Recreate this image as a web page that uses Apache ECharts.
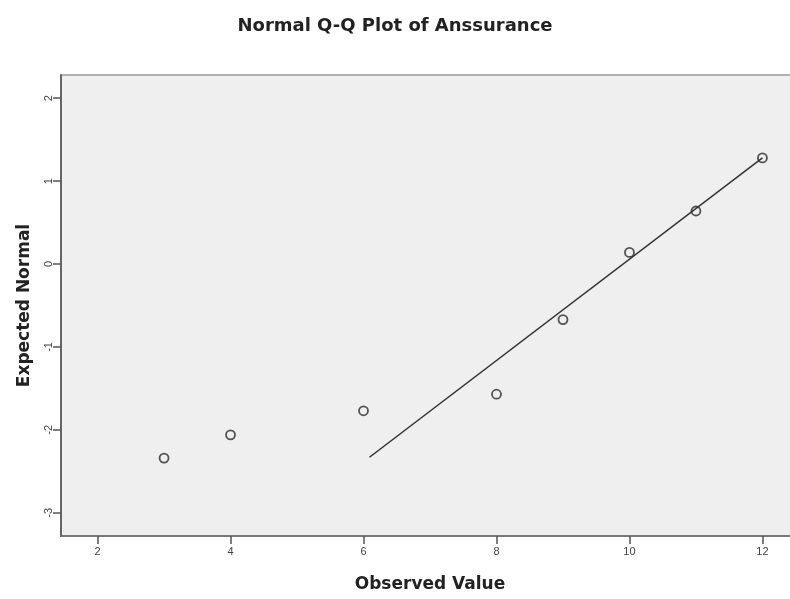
<!DOCTYPE html>
<html>
<head>
<meta charset="utf-8">
<script src="https://cdn.jsdelivr.net/npm/echarts@6/dist/echarts.min.js"></script>
<style>
  html, body { margin: 0; padding: 0; background: #fff; }
  #chart { width: 790px; height: 599px; }
</style>
</head>
<body>
<div id="chart"></div>
<script>
// Observed scores and their expected normal quantiles
const observed = [3, 4, 6, 8, 9, 10, 11, 12];
const expectedNormal = [-2.34, -2.06, -1.77, -1.57, -0.67, 0.14, 0.64, 1.28];
// Reference line end points (observed value, expected normal)
const refLineX = [6.09, 12];
const refLineY = [-2.33, 1.28];
// Axis tick values
const xTicks = [2, 4, 6, 8, 10, 12];
const yTicks = [-3, -2, -1, 0, 1, 2];

const points = observed.map((v, i) => [v, expectedNormal[i]]);
const refLine = refLineX.map((v, i) => [v, refLineY[i]]);

const chart = echarts.init(document.getElementById('chart'), null, { renderer: 'canvas' });
const nameFont = 'DejaVu Sans, Verdana, sans-serif';
const tickFont = 'Liberation Sans, Arial, sans-serif';

chart.setOption({
  animation: false,
  backgroundColor: '#ffffff',
  title: {
    text: 'Normal Q-Q Plot of Anssurance',
    left: 390,
    top: 12,
    textAlign: 'center',
    textStyle: { fontFamily: nameFont, fontSize: 18, fontWeight: 'bold', color: '#222' }
  },
  grid: {
    left: 61, top: 75, width: 738, height: 461,
    outerBoundsMode: 'none',
    containLabel: false,
    show: true,
    backgroundColor: '#efefef',
    borderColor: '#9a9a9a',
    borderWidth: 1.5
  },
  xAxis: {
    type: 'value',
    min: 1.45, max: 12.55,
    name: 'Observed Value',
    nameLocation: 'middle',
    nameGap: 40,
    nameTextStyle: { fontFamily: nameFont, fontSize: 17, fontWeight: 'bold', color: '#222' },
    axisLine: { show: true, onZero: false, lineStyle: { color: '#666', width: 1.5 } },
    axisTick: { show: true, inside: false, length: 8, customValues: xTicks, lineStyle: { color: '#555', width: 1.5 } },
    axisLabel: { customValues: xTicks, margin: 10, fontFamily: tickFont, fontSize: 11, color: '#444' },
    splitLine: { show: false }
  },
  yAxis: {
    type: 'value',
    min: -3.28, max: 2.28,
    name: 'Expected Normal',
    nameLocation: 'middle',
    nameGap: 28,
    nameRotate: 90,
    nameTextStyle: { fontFamily: nameFont, fontSize: 17, fontWeight: 'bold', color: '#222' },
    axisLine: { show: true, onZero: false, lineStyle: { color: '#666', width: 2 } },
    axisTick: { show: true, inside: false, length: 8, customValues: yTicks, lineStyle: { color: '#555', width: 1.5 } },
    axisLabel: { customValues: yTicks, rotate: 90, margin: 7, fontFamily: tickFont, fontSize: 11, color: '#444' },
    splitLine: { show: false }
  },
  series: [
    {
      type: 'line',
      data: refLine,
      symbol: 'none',
      lineStyle: { color: '#333', width: 1.5 },
      z: 2
    },
    {
      type: 'scatter',
      data: points,
      symbol: 'circle',
      symbolSize: 9,
      itemStyle: { color: 'rgba(0,0,0,0)', borderColor: '#2a2a2a', borderWidth: 1.8 },
      z: 3
    }
  ]
});
</script>
</body>
</html>
